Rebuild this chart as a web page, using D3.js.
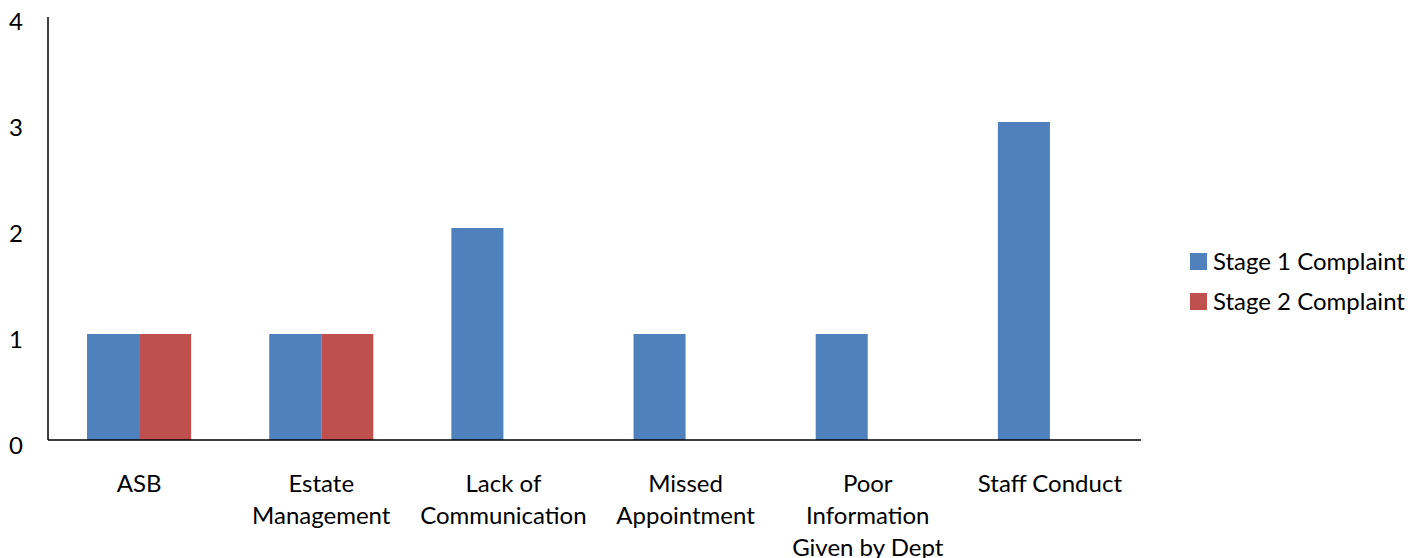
<!DOCTYPE html>
<html>
<head>
<meta charset="utf-8">
<script src="https://cdn.jsdelivr.net/npm/d3@7"></script>
<style>
  body { margin: 0; background: #fff; }
  svg text { font-family: Lato, "Open Sans", sans-serif; fill: #000; }
</style>
</head>
<body>
<svg id="chart" width="1413" height="558"></svg>
<script>
// Complaint categories (label lines as drawn under the axis)
const categories = ['ASB', 'Estate Management', 'Lack of Communication', 'Missed Appointment',
    'Poor Information Given by Dept', 'Staff Conduct'];
const categoryLines = [
    ['ASB'],
    ['Estate', 'Management'],
    ['Lack of', 'Communication'],
    ['Missed', 'Appointment'],
    ['Poor', 'Information', 'Given by Dept'],
    ['Staff Conduct']
];
const seriesNames = ['Stage 1 Complaint', 'Stage 2 Complaint'];
const stage1 = [1, 1, 2, 1, 1, 3];
const stage2 = [1, 1, 0, 0, 0, 0];
const yTicks = [0, 1, 2, 3, 4];

const COLORS = ['#4F81BD', '#C0504D'];

const svg = d3.select('#chart');
const plotLeft = 48, plotRight = 1141, plotTop = 16, plotBottom = 440;

const x0 = d3.scaleBand().domain(categories).range([plotLeft, plotRight]).padding(0);
const x1 = d3.scaleBand().domain(seriesNames).range([0, x0.bandwidth()])
    .paddingInner(0).paddingOuter(0.75);
const y = d3.scaleLinear().domain([0, 4]).range([plotBottom, plotTop]);

const rows = categories.map((c, i) => ({ cat: c, values: [stage1[i], stage2[i]] }));

// bars
const group = svg.append('g').selectAll('g')
    .data(rows)
    .join('g')
    .attr('transform', d => `translate(${x0(d.cat)},0)`);

group.selectAll('rect')
    .data(d => d.values.map((v, k) => ({ series: seriesNames[k], v, k })))
    .join('rect')
    .attr('x', d => x1(d.series))
    .attr('y', d => y(d.v))
    .attr('width', x1.bandwidth())
    .attr('height', d => y(0) - y(d.v))
    .attr('fill', d => COLORS[d.k]);

// y axis (no tick marks)
svg.append('line')
    .attr('x1', plotLeft).attr('x2', plotLeft)
    .attr('y1', plotTop + 1).attr('y2', plotBottom)
    .attr('stroke', '#000').attr('stroke-width', 1.5);

svg.append('g').selectAll('text')
    .data(yTicks)
    .join('text')
    .attr('x', 23)
    .attr('y', d => y(d) + 14)
    .attr('text-anchor', 'end')
    .attr('font-size', 24)
    .text(d => d);

// x axis
svg.append('line')
    .attr('x1', plotLeft).attr('x2', plotRight)
    .attr('y1', plotBottom).attr('y2', plotBottom)
    .attr('stroke', '#000').attr('stroke-width', 1.5);

svg.append('g').selectAll('text')
    .data(categories)
    .join('text')
    .attr('x', d => x0(d) + x0.bandwidth() / 2)
    .attr('y', 492)
    .attr('text-anchor', 'middle')
    .attr('font-size', 24)
    .each(function (d, i) {
        d3.select(this).selectAll('tspan')
            .data(categoryLines[i])
            .join('tspan')
            .attr('x', x0(d) + x0.bandwidth() / 2)
            .attr('dy', (t, j) => j === 0 ? 0 : 32)
            .text(t => t);
    });

// legend
const legend = svg.append('g').selectAll('g')
    .data(seriesNames)
    .join('g')
    .attr('transform', (d, i) => `translate(1190,${253 + i * 40})`);

legend.append('rect')
    .attr('width', 17).attr('height', 17)
    .attr('fill', (d, i) => COLORS[i]);

legend.append('text')
    .attr('x', 23)
    .attr('y', 17)
    .attr('font-size', 24)
    .text(d => d);
</script>
</body>
</html>
